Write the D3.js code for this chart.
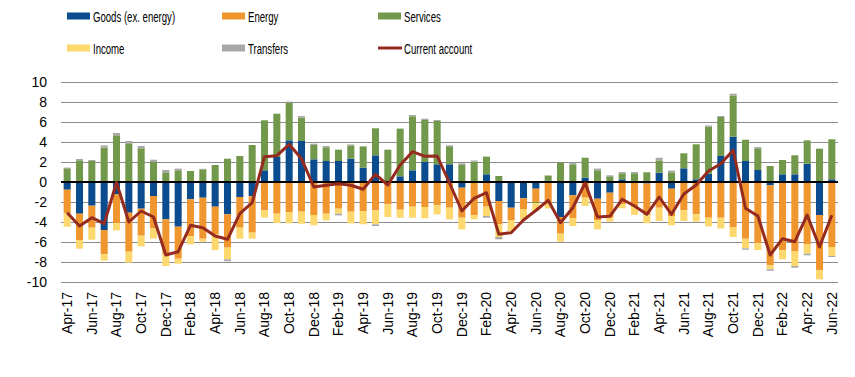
<!DOCTYPE html>
<html>
<head>
  <meta charset="utf-8">
  <title>Current account components</title>
  <script src="https://d3js.org/d3.v7.min.js"></script>
  <style>
    body { margin: 0; background: #fff; }
    text { font-family: "Liberation Sans", Arial, sans-serif; }
  </style>
</head>
<body>
  <script>
    // Monthly categories, Apr-17 to Jun-22
    let months = [
      "Apr-17","May-17","Jun-17","Jul-17","Aug-17","Sep-17","Oct-17","Nov-17","Dec-17",
      "Jan-18","Feb-18","Mar-18","Apr-18","May-18","Jun-18","Jul-18","Aug-18","Sep-18","Oct-18","Nov-18","Dec-18",
      "Jan-19","Feb-19","Mar-19","Apr-19","May-19","Jun-19","Jul-19","Aug-19","Sep-19","Oct-19","Nov-19","Dec-19",
      "Jan-20","Feb-20","Mar-20","Apr-20","May-20","Jun-20","Jul-20","Aug-20","Sep-20","Oct-20","Nov-20","Dec-20",
      "Jan-21","Feb-21","Mar-21","Apr-21","May-21","Jun-21","Jul-21","Aug-21","Sep-21","Oct-21","Nov-21","Dec-21",
      "Jan-22","Feb-22","Mar-22","Apr-22","May-22","Jun-22"
    ];

    // Series values
    let goods = [
      -0.77,-3.17,-2.37,-4.8,-1.23,-3.07,-2.67,-1.4,-3.73,
      -4.47,-1.73,-1.57,-2.47,-3.23,-1.5,-1.43,1.17,2.5,4.17,4.1,2.27,
      2.1,2.1,2.33,1.43,2.67,0.1,0.57,1.17,2.0,1.77,1.77,-0.57,
      0.05,0.77,-1.9,-2.57,-1.63,-0.67,0.15,-3.5,-1.33,0.43,-1.67,-1.07,
      0.27,-0.05,-0.15,0.93,-0.67,1.37,0.27,0.83,2.6,4.53,2.1,1.2,
      -0.33,0.77,0.77,1.83,-3.3,0.27
    ];
    let energy = [
      -2.37,-2.63,-2.2,-2.43,-2.9,-3.9,-2.7,-3.23,-3.5,
      -3.2,-3.7,-4.1,-2.77,-3.33,-3.07,-3.63,-2.83,-3.17,-3.0,-2.97,-3.3,
      -3.17,-2.67,-2.97,-2.9,-2.83,-2.23,-2.77,-2.47,-2.5,-2.33,-2.57,-3.0,
      -3.33,-2.47,-2.33,-1.23,-1.07,-1.33,-2.17,-1.67,-2.3,-1.57,-2.13,-2.5,
      -2.23,-2.43,-3.17,-2.57,-2.73,-2.83,-3.23,-3.57,-3.57,-4.5,-5.67,-6.13,
      -8.0,-6.83,-6.9,-6.23,-5.53,-6.5
    ];
    let services = [
      1.37,2.17,2.1,3.43,4.67,3.87,3.37,2.0,0.97,
      1.17,1.1,1.27,1.7,2.33,2.6,3.7,5.0,4.33,3.77,2.33,1.43,
      1.37,1.13,1.33,2.13,2.7,3.13,4.77,5.4,4.2,4.33,1.8,1.7,
      2.0,1.77,0.6,0.05,0,-0.1,0.5,1.93,1.77,2.0,1.17,0.57,
      0.6,0.87,0.97,1.23,0.97,1.5,3.5,4.7,3.9,4.13,2.13,2.17,
      1.6,1.43,1.9,2.33,3.33,4.0
    ];
    let income = [
      -1.33,-0.87,-1.2,-0.63,-0.7,-1.1,-1.07,-1.03,-1.17,
      -0.5,-0.8,-0.3,-1.57,-1.17,-1.1,-0.6,-0.73,-0.93,-1.13,-1.2,-1.03,
      -0.67,-0.5,-1.17,-1.33,-1.4,-1.27,-0.8,-1.1,-1.13,-0.9,-1.17,-1.17,
      -0.4,-0.93,-1.27,-1.1,-1.07,-0.8,-0.47,-0.8,-0.77,-0.83,-0.93,-0.4,
      -0.4,-0.8,-0.8,-1.33,-0.93,-1.07,-0.73,-0.87,-1.07,-1.0,-0.97,-0.67,
      -0.4,-0.9,-1.5,-0.93,-0.9,-0.9
    ];
    let transfers = [
      0.07,0.13,0.1,0.23,0.23,0.23,0.23,0.23,0.23,
      0.17,0,0.05,0,-0.2,0,0,0,0,0.1,0.17,0.13,
      0.13,-0.17,0.1,0,-0.17,0,0,0.13,0.13,0.1,0.1,0.17,
      0.1,-0.17,-0.23,0,0,0,0,0,0.17,0,0.17,0.1,
      0.13,0.13,0,0.27,0.17,0,0,0.13,0.1,0.17,-0.13,0.13,
      -0.15,0,-0.17,-0.17,0,-0.1
    ];
    let currentAccount = [
      -3.07,-4.4,-3.57,-4.17,-0.05,-4.0,-2.9,-3.5,-7.3,
      -6.97,-4.33,-4.57,-5.4,-5.73,-3.17,-2.07,2.53,2.63,3.77,2.33,-0.5,
      -0.33,-0.17,-0.33,-0.73,0.77,-0.3,1.7,3.03,2.57,2.6,-0.1,-2.9,
      -1.63,-1.07,-5.23,-5.07,-3.8,-2.85,-1.83,-4.07,-2.57,-0.1,-3.5,-3.43,
      -1.73,-2.4,-3.23,-1.5,-3.23,-1.2,-0.3,1.1,1.83,3.17,-2.63,-3.4,
      -7.3,-5.67,-5.97,-3.3,-6.5,-3.33
    ];

    let seriesNames = ["Goods (ex. energy)", "Energy", "Services", "Income", "Transfers"];
    let seriesColors = ["#0a4c8e", "#f0962f", "#72984c", "#fdd86e", "#a8a8a8"];
    let lineName = "Current account";
    let lineColor = "#952b1f";
    let yTicks = [-10, -8, -6, -4, -2, 0, 2, 4, 6, 8, 10];

    // Build a table for d3.stack
    let keys = ["goods", "energy", "services", "income", "transfers"];
    let table = months.map((m, i) => ({
      month: m,
      goods: goods[i],
      energy: energy[i],
      services: services[i],
      income: income[i],
      transfers: transfers[i]
    }));

    let width = 855, height = 377;
    let margin = { top: 82, right: 17, bottom: 95, left: 61 };

    let svg = d3.select("body")
      .append("svg")
      .attr("width", width)
      .attr("height", height);

    let x = d3.scaleBand()
      .domain(months)
      .range([margin.left, width - margin.right])
      .paddingInner(0.43)
      .paddingOuter(0.215);

    let y = d3.scaleLinear()
      .domain([-10, 10])
      .range([height - margin.bottom, margin.top]);

    // Gridlines
    svg.append("g")
      .selectAll("line")
      .data(yTicks)
      .enter()
      .append("line")
      .attr("x1", margin.left)
      .attr("x2", width - margin.right)
      .attr("y1", (d) => Math.round(y(d)) + 0.5)
      .attr("y2", (d) => Math.round(y(d)) + 0.5)
      .attr("stroke", "#8c8c8c")
      .attr("stroke-width", 1);

    // Y axis labels (plain hyphen for negatives)
    let yAxis = svg.append("g")
      .attr("transform", "translate(" + (margin.left - 14) + ",0)")
      .call(d3.axisLeft(y).tickValues(yTicks).tickFormat((d) => String(d)).tickSize(0).tickPadding(0));
    yAxis.select(".domain").remove();
    yAxis.selectAll("text")
      .attr("font-size", "14px")
      .attr("fill", "#000");

    // Stacked bars (positive up, negative down)
    let stack = d3.stack()
      .keys(keys)
      .offset(d3.stackOffsetDiverging);
    let stacked = stack(table);

    svg.append("g")
      .selectAll("g")
      .data(stacked)
      .enter()
      .append("g")
      .attr("fill", (d, i) => seriesColors[i])
      .selectAll("rect")
      .data((d) => d)
      .enter()
      .append("rect")
      .attr("x", (d) => x(d.data.month))
      .attr("width", x.bandwidth())
      .attr("y", (d) => y(Math.max(d[0], d[1])))
      .attr("height", (d) => Math.abs(y(d[0]) - y(d[1])));

    // Zero line
    svg.append("line")
      .attr("x1", margin.left)
      .attr("x2", width - margin.right)
      .attr("y1", y(0))
      .attr("y2", y(0))
      .attr("stroke", "#000")
      .attr("stroke-width", 2);

    // Current account line
    let line = d3.line()
      .x((d, i) => x(months[i]) + x.bandwidth() / 2)
      .y((d) => y(d));

    svg.append("path")
      .datum(currentAccount)
      .attr("d", line)
      .attr("fill", "none")
      .attr("stroke", lineColor)
      .attr("stroke-width", 3)
      .attr("stroke-linejoin", "round");

    // X axis labels, every second month, rotated
    let xAxis = svg.append("g")
      .attr("transform", "translate(0," + (height - margin.bottom + 10) + ")")
      .call(d3.axisBottom(x).tickValues(months.filter((d, i) => i % 2 === 0)).tickSize(0).tickPadding(0));
    xAxis.select(".domain").remove();
    xAxis.selectAll("text")
      .attr("font-size", "14px")
      .attr("fill", "#000")
      .attr("transform", "rotate(-90)")
      .attr("text-anchor", "end")
      .attr("x", 0)
      .attr("y", 0)
      .attr("dy", "0.35em");

    // Legend: row 1 = goods, energy, services; row 2 = income, transfers, current account
    let legendItems = seriesNames.map((n, i) => ({ name: n, color: seriesColors[i], type: "rect" }));
    legendItems.push({ name: lineName, color: lineColor, type: "line" });
    let colX = [67, 222, 378];
    let rowY = [16, 48];

    let legend = svg.selectAll(".legend")
      .data(legendItems)
      .enter()
      .append("g")
      .attr("class", "legend")
      .attr("transform", function(d, i) {
        return "translate(" + colX[i % 3] + "," + rowY[Math.floor(i / 3)] + ")";
      });

    legend.filter((d) => d.type === "rect")
      .append("rect")
      .attr("x", 0)
      .attr("y", -3.5)
      .attr("width", 23)
      .attr("height", 7)
      .attr("fill", (d) => d.color);

    legend.filter((d) => d.type === "line")
      .append("line")
      .attr("x1", 0)
      .attr("x2", 24)
      .attr("y1", 0)
      .attr("y2", 0)
      .attr("stroke", (d) => d.color)
      .attr("stroke-width", 3);

    legend.append("text")
      .attr("transform", "translate(26,5.5) scale(0.64,1)")
      .attr("font-size", "15px")
      .attr("fill", "#000")
      .text((d) => d.name);
  </script>
</body>
</html>
